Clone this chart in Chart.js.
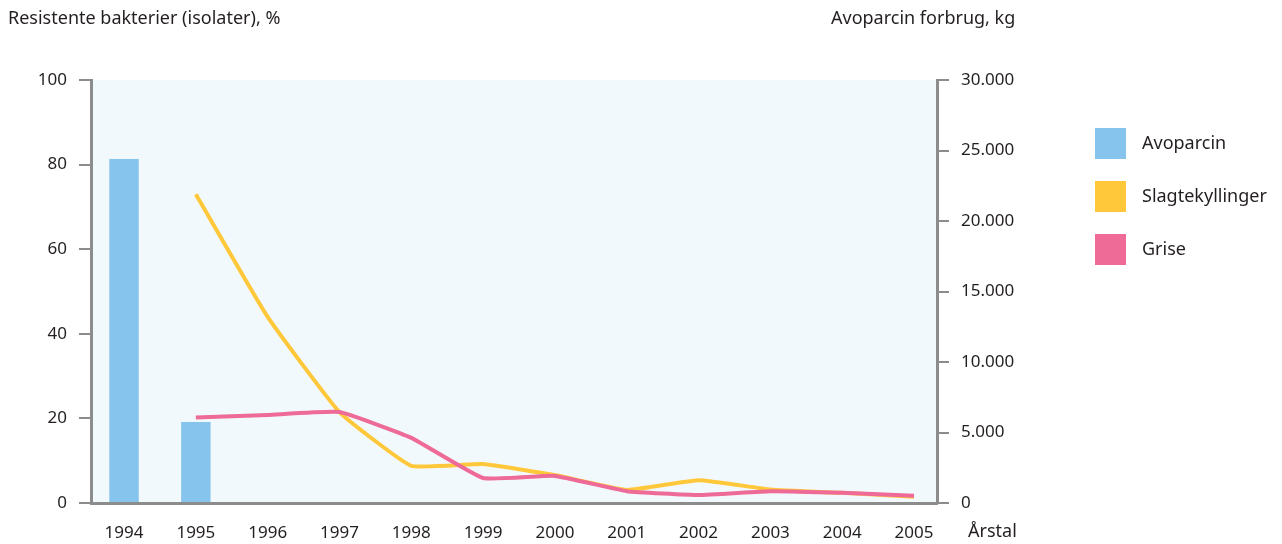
<!DOCTYPE html>
<html>
<head>
<meta charset="utf-8">
<script src="https://cdn.jsdelivr.net/npm/chart.js@4/dist/chart.umd.min.js"></script>
<style>
  html, body { margin: 0; padding: 0; background: #fff; }
  #wrap { position: relative; width: 1282px; height: 544px; }
</style>
</head>
<body>
<div id="wrap"><canvas id="chart" width="1282" height="544"></canvas></div>
<script>
// data
const years = [1994, 1995, 1996, 1997, 1998, 1999, 2000, 2001, 2002, 2003, 2004, 2005];
const avoparcinKg = [24400, 5750, null, null, null, null, null, null, null, null, null, null];
const slagtekyllinger = [null, 73.0, 44.0, 21.5, 8.8, 9.2, 6.6, 3.1, 5.4, 3.2, 2.4, 1.5];
const grise = [null, 20.2, 20.8, 21.5, 15.4, 5.9, 6.4, 2.8, 1.9, 2.8, 2.4, 1.7];
const leftTicks = [0, 20, 40, 60, 80, 100];
const rightTicks = [0, 5000, 10000, 15000, 20000, 25000, 30000];

const FONT = "'Noto Sans', sans-serif";
const TXT = "#231f20";
const AXIS = "#8c8c8c";

function points(values) {
  return years.map(function (y, i) { return { x: y, y: values[i] }; })
              .filter(function (p) { return p.y !== null; });
}

// light blue plot background + titles + custom legend
const decorations = {
  id: "decorations",
  beforeDraw(chart) {
    const { ctx, chartArea: a } = chart;
    ctx.save();
    ctx.fillStyle = "#f2f9fd";
    ctx.fillRect(a.left, a.top, a.right - a.left, a.bottom - a.top);
    ctx.restore();
  },
  afterDraw(chart) {
    const { ctx } = chart;
    ctx.save();
    ctx.fillStyle = TXT;
    ctx.font = "18px " + FONT;
    ctx.textBaseline = "alphabetic";
    ctx.textAlign = "left";
    ctx.fillText("Resistente bakterier (isolater), %", 8, 24);
    ctx.fillText("Avoparcin forbrug, kg", 831, 24);
    ctx.fillText("Årstal", 968, 537);

    // legend
    chart.data.datasets.forEach(function (ds, i) {
      const y = 128 + i * 53;
      ctx.fillStyle = ds.legendColor;
      ctx.fillRect(1095, y, 31, 31);
      ctx.fillStyle = TXT;
      ctx.fillText(ds.label, 1142, y + 21);
    });
    ctx.restore();
  }
};

new Chart(document.getElementById("chart"), {
  data: {
    datasets: [
      {
        type: "bar",
        label: "Avoparcin",
        data: points(avoparcinKg),
        yAxisID: "yRight",
        backgroundColor: "#86c4ed",
        legendColor: "#86c4ed",
        barPercentage: 0.41,
        categoryPercentage: 1,
        order: 3
      },
      {
        type: "line",
        label: "Slagtekyllinger",
        data: points(slagtekyllinger),
        yAxisID: "yLeft",
        borderColor: "#ffc83a",
        legendColor: "#ffc83a",
        borderWidth: 4,
        pointRadius: 0,
        tension: 0.12,
        order: 2
      },
      {
        type: "line",
        label: "Grise",
        data: points(grise),
        yAxisID: "yLeft",
        borderColor: "#ee6a97",
        legendColor: "#ee6a97",
        borderWidth: 4,
        pointRadius: 0,
        tension: 0.12,
        order: 1
      }
    ]
  },
  options: {
    responsive: false,
    animation: false,
    layout: { padding: { top: 80, left: 0, right: 0, bottom: 0 } },
    plugins: {
      legend: { display: false },
      tooltip: { enabled: false }
    },
    scales: {
      x: {
        type: "linear",
        offset: false,
        min: 1993.54,
        max: 2005.32,
        afterBuildTicks(scale) { scale.ticks = years.map(v => ({ value: v })); },
        grid: { display: false },
        border: { display: true, color: AXIS, width: 3 },
        ticks: {
          color: TXT,
          font: { family: FONT, size: 17 },
          padding: 12,
          callback: function (v) { return String(v); }
        },
        afterFit(scale) { scale.height = 41; }
      },
      yLeft: {
        position: "left",
        min: 0,
        max: 100,
        afterBuildTicks(scale) { scale.ticks = leftTicks.map(v => ({ value: v })); },
        grid: { drawOnChartArea: false, drawTicks: true, tickLength: 12, color: AXIS, lineWidth: 2 },
        border: { display: true, color: AXIS, width: 3 },
        ticks: { color: TXT, font: { family: FONT, size: 17 }, padding: 12 },
        afterFit(scale) { scale.width = 91; }
      },
      yRight: {
        position: "right",
        min: 0,
        max: 30000,
        afterBuildTicks(scale) { scale.ticks = rightTicks.map(v => ({ value: v })); },
        grid: { drawOnChartArea: false, drawTicks: true, tickLength: 12, color: AXIS, lineWidth: 2 },
        border: { display: true, color: AXIS, width: 3 },
        ticks: {
          color: TXT,
          font: { family: FONT, size: 17 },
          padding: 12,
          callback: function (v) { return v.toLocaleString("de-DE"); }
        },
        afterFit(scale) { scale.width = 345; }
      }
    }
  },
  plugins: [decorations]
});
</script>
</body>
</html>
